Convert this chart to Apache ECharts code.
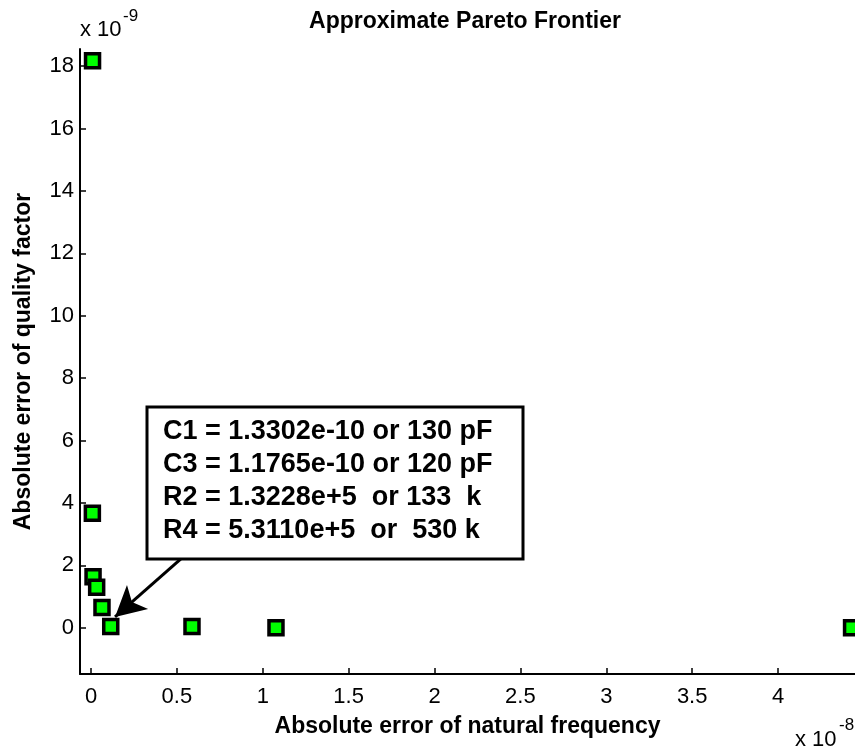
<!DOCTYPE html>
<html>
<head>
<meta charset="utf-8">
<script src="https://cdn.jsdelivr.net/npm/echarts@6/dist/echarts.min.js"></script>
<style>
  html, body { margin: 0; padding: 0; background: #fff; }
  #chart { width: 855px; height: 753px; }
</style>
</head>
<body>
<div id="chart"></div>
<script>
// natural frequency error (units of 1e-8) vs quality factor error (units of 1e-9)
const freqErr = [0.009, 0.008, 0.012, 0.033, 0.064, 0.115, 0.588, 1.077, 4.428]
const qualErr = [18.17, 3.67, 1.64, 1.30, 0.65, 0.04, 0.04, 0.005, 0.0]
const xTicks = [0, 0.5, 1, 1.5, 2, 2.5, 3, 3.5, 4]
const yTicks = [0, 2, 4, 6, 8, 10, 12, 14, 16, 18]
const noteLines = [
  'C1 = 1.3302e-10 or 130 pF',
  'C3 = 1.1765e-10 or 120 pF',
  'R2 = 1.3228e+5  or 133  k',
  'R4 = 5.3110e+5  or  530 k'
]
// arrow from the note box down to the picked design (data units)
const arrowFrom = [0.53, 2.24]
const arrowTo = [0.14, 0.35]

const FONT = '"Liberation Sans", Arial, sans-serif'
const points = freqErr.map((x, i) => [x, qualErr[i]])

const chart = echarts.init(document.getElementById('chart'))

chart.setOption({
  animation: false,
  backgroundColor: '#fff',
  grid: { left: 80, right: 0, top: 49, bottom: 79, outerBoundsMode: 'none' },
  xAxis: {
    type: 'value',
    min: -0.064,
    max: 4.448,
    name: 'Absolute error of natural frequency',
    nameLocation: 'middle',
    nameGap: 41,
    nameTextStyle: { fontFamily: FONT, fontWeight: 'bold', fontSize: 23, color: '#000' },
    splitLine: { show: false },
    axisLine: { onZero: false, lineStyle: { color: '#000', width: 2 } },
    axisTick: { inside: true, length: 6, customValues: xTicks, lineStyle: { color: '#000', width: 1.5 } },
    axisLabel: { customValues: xTicks, fontFamily: FONT, fontSize: 22, color: '#000', margin: 12 }
  },
  yAxis: {
    type: 'value',
    min: -1.48,
    max: 18.55,
    name: 'Absolute error of quality factor',
    nameLocation: 'middle',
    nameGap: 45,
    nameTextStyle: { fontFamily: FONT, fontWeight: 'bold', fontSize: 23, color: '#000' },
    splitLine: { show: false },
    axisLine: { onZero: false, lineStyle: { color: '#000', width: 2 } },
    axisTick: { inside: true, length: 6, customValues: yTicks, lineStyle: { color: '#000', width: 1.5 } },
    axisLabel: { customValues: yTicks, fontFamily: FONT, fontSize: 22, color: '#000', margin: 6 }
  },
  series: [{
    type: 'scatter',
    data: points,
    symbol: 'rect',
    symbolSize: 14,
    itemStyle: { color: '#00ff00', borderColor: '#000', borderWidth: 3.5, opacity: 1 },
    markLine: {
      silent: true,
      symbolSize: [24, 30],
      label: { show: false },
      lineStyle: { color: '#000', width: 3, type: 'solid' },
      data: [[
        { coord: arrowFrom, symbol: 'none' },
        { coord: arrowTo, symbol: 'arrow' }
      ]]
    }
  }],
  graphic: [
    {
      type: 'text', x: 465, y: 10, z: 10,
      style: { text: 'Approximate Pareto Frontier', textAlign: 'center', font: 'bold 23px ' + FONT, fill: '#000' }
    },
    {
      type: 'text', x: 80, y: 19, z: 10,
      style: { text: 'x 10', font: '22px ' + FONT, fill: '#000' }
    },
    {
      type: 'text', x: 123, y: 8, z: 10,
      style: { text: '-9', font: '17px ' + FONT, fill: '#000' }
    },
    {
      type: 'text', x: 795, y: 729, z: 10,
      style: { text: 'x 10', font: '22px ' + FONT, fill: '#000' }
    },
    {
      type: 'text', x: 839, y: 717, z: 10,
      style: { text: '-8', font: '17px ' + FONT, fill: '#000' }
    },
    {
      type: 'rect', z: 20,
      shape: { x: 147, y: 407, width: 376, height: 152 },
      style: { fill: '#fff', stroke: '#000', lineWidth: 3 }
    },
    {
      type: 'text', x: 163, y: 415, z: 21,
      style: { text: noteLines.join('\n'), font: 'bold 27px ' + FONT, lineHeight: 33, fill: '#000' }
    }
  ]
})
</script>
</body>
</html>
